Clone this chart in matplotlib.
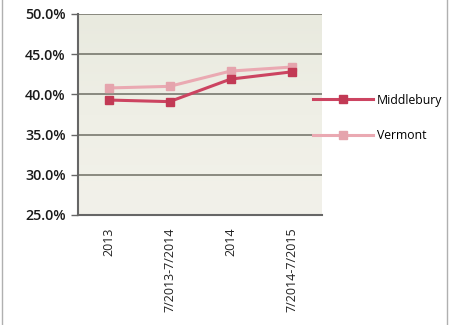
import numpy as np
import matplotlib
matplotlib.use("Agg")
import matplotlib.pyplot as plt
from matplotlib.ticker import FuncFormatter

categories = ["2013", "7/2013-7/2014", "2014", "7/2014-7/2015"]
middlebury = [39.3, 39.1, 41.9, 42.8]
vermont = [40.8, 41.0, 42.9, 43.4]
y_ticks = [25, 30, 35, 40, 45, 50]

plt.rcParams["font.family"] = ["Open Sans", "DejaVu Sans"]

fig = plt.figure(figsize=(4.49, 3.25), dpi=100)
fig.patch.set_facecolor("white")
ax = fig.add_axes([78 / 449, 110 / 325, 244 / 449, 201 / 325])

# soft vertical gradient for the plot area
grad = np.linspace(0, 1, 256).reshape(-1, 1)
cmap = matplotlib.colors.LinearSegmentedColormap.from_list(
    "bg", ["#e9eadf", "#efefe6", "#f2f1ea"])
ax.imshow(grad, aspect="auto", cmap=cmap, extent=[0, 1, 0, 1],
          transform=ax.transAxes, zorder=0, origin="upper")

x = np.arange(len(categories))
ax.plot(x, vermont, color="#eaa9b2", lw=2.2, marker="s", ms=6,
        mfc="#e5a4ad", mec="#e5a4ad", label="Vermont", zorder=3)
ax.plot(x, middlebury, color="#cc4461", lw=2.2, marker="s", ms=6,
        mfc="#c23a55", mec="#c23a55", label="Middlebury", zorder=4)

ax.set_xlim(-0.5, len(categories) - 0.5)
ax.set_ylim(25, 50)
ax.set_yticks(y_ticks)
ax.yaxis.set_major_formatter(FuncFormatter(lambda v, p: f"{v:.1f}%"))
ax.set_xticks(x)
ax.set_xticklabels(categories, rotation=90, fontsize=9, color="#222222")
ax.tick_params(axis="y", labelsize=10.3, length=5, width=1, color="#666666",
               pad=4, labelcolor="#1a1a1a")
ax.tick_params(axis="x", length=0, pad=9)
for lab in ax.get_yticklabels():
    lab.set_fontweight("semibold")

ax.grid(axis="y", color="#6e6e64", lw=1.1, zorder=1)
ax.set_axisbelow(True)
for s in ["top", "right"]:
    ax.spines[s].set_visible(False)
ax.spines["left"].set_color("#666666")
ax.spines["left"].set_linewidth(1.5)
ax.spines["bottom"].set_color("#666666")
ax.spines["bottom"].set_linewidth(1.5)

handles, labels = ax.get_legend_handles_labels()
leg = ax.legend(handles[::-1], labels[::-1], loc="center left",
                bbox_to_anchor=(0.963, 0.483), frameon=False, fontsize=8.8,
                handlelength=4.9, labelspacing=1.85, handletextpad=0.3,
                borderaxespad=0.0, borderpad=0.0)

# thin frame around the figure
fig.add_artist(plt.Rectangle((0.004, -0.01), 0.992, 1.02, transform=fig.transFigure,
                             fill=False, ec="#b0b0b0", lw=1))

fig.savefig("out.png", dpi=100)
